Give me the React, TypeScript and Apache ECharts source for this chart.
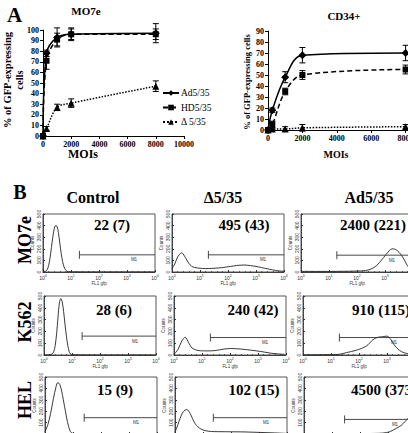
import React, { useEffect, useRef } from "react";
import * as echarts from "echarts";

// ---- Panel A: transduction efficiency vs MOI ----
const moi = [0, 250, 1000, 2000, 8000];
const vectorNames = ["Ad5/35", "HD5/35", "Δ 5/35"];

const mo7eAd = [0, 78, 93, 96, 97];
const mo7eHD = [0, 71, 91, 96, 96];
const mo7eDelta = [0, 7, 27, 31, 47];
const mo7eAdErr = [0, 3, 9, 6, 9];
const mo7eHDErr = [0, 8, 6, 5, 5];
const mo7eDeltaErr = [0, 2, 3, 4, 5];

const cd34Ad = [0, 18, 48, 68, 70];
const cd34HD = [0, 5, 35, 50, 55];
const cd34Delta = [0, 1, 1, 2, 3];
const cd34AdErr = [0, 2, 5, 7, 7];
const cd34HDErr = [0, 3, 3, 4, 4];
const cd34DeltaErr = [0, 1, 2, 3, 2];

// ---- Panel B: FL1 (GFP) histograms, x as log10 decade, y as counts ----
const columns = ["Control", "Δ5/35", "Ad5/35"];
const cellLines = ["MO7e", "K562", "HEL"];
const meanLabels = [
  ["22 (7)", "495 (43)", "2400 (221)"],
  ["28 (6)", "240 (42)", "910 (115)"],
  ["15 (9)", "102 (15)", "4500 (373)"],
];

const mo7eControlLog = [0, 0.05, 0.1, 0.15, 0.2, 0.25, 0.3, 0.35, 0.4, 0.45, 0.5, 0.55, 0.6, 0.65, 0.7, 0.75, 0.8, 0.85, 0.9, 1.0, 1.5, 2, 3, 4];
const mo7eControlCounts = [25, 5, 8, 20, 55, 120, 210, 300, 370, 400, 395, 340, 250, 160, 90, 45, 20, 8, 3, 1, 0, 0, 0, 0];
const mo7eDeltaLog = [0, 0.1, 0.2, 0.3, 0.35, 0.4, 0.5, 0.6, 0.7, 0.8, 1.0, 1.2, 1.5, 1.8, 2.0, 2.2, 2.4, 2.6, 2.8, 3.0, 3.2, 3.4, 3.6, 3.8, 4.0];
const mo7eDeltaCounts = [30, 70, 130, 160, 165, 155, 115, 75, 50, 40, 32, 30, 32, 38, 45, 52, 58, 60, 55, 48, 38, 28, 18, 10, 6];
const mo7eAdLog = [0, 0.5, 1, 1.5, 2, 2.3, 2.5, 2.7, 2.9, 3.0, 3.1, 3.2, 3.3, 3.4, 3.5, 3.6, 3.7, 3.8, 3.9, 4];
const mo7eAdCounts = [6, 5, 5, 6, 8, 12, 25, 55, 110, 140, 170, 195, 200, 190, 170, 140, 100, 55, 25, 10];

const k562ControlLog = [0, 0.2, 0.3, 0.35, 0.4, 0.45, 0.5, 0.55, 0.6, 0.65, 0.7, 0.75, 0.8, 0.85, 0.9, 0.95, 1.0, 2, 4];
const k562ControlCounts = [0, 2, 10, 30, 80, 180, 320, 440, 478, 450, 370, 260, 160, 80, 30, 8, 2, 0, 0];
const k562DeltaLog = [0, 0.15, 0.28, 0.4, 0.52, 0.64, 0.82, 1.06, 1.3, 1.54, 1.78, 2.02, 2.4, 2.77, 3.1, 3.47, 3.95];
const k562DeltaCounts = [5, 50, 120, 150, 105, 60, 40, 35, 35, 40, 50, 55, 50, 40, 30, 15, 5];
const k562AdLog = [0, 0.5, 1.0, 1.3, 1.55, 1.9, 2.26, 2.5, 2.67, 2.85, 3.0, 3.14, 3.26, 3.44, 3.6, 3.8, 4.0];
const k562AdCounts = [2, 2, 3, 6, 20, 40, 75, 130, 150, 155, 160, 130, 85, 40, 20, 8, 3];

const helControlLog = [0, 0.1, 0.2, 0.3, 0.4, 0.45, 0.5, 0.55, 0.6, 0.7, 0.8, 0.9, 1.0, 2, 4];
const helControlCounts = [20, 80, 180, 310, 420, 450, 445, 420, 370, 240, 110, 25, 5, 0, 0];
const helDeltaLog = [0, 0.1, 0.18, 0.3, 0.42, 0.54, 0.72, 0.95, 1.3, 1.8, 2.5, 3.0, 3.5, 4.0];
const helDeltaCounts = [15, 80, 136, 197, 215, 180, 90, 40, 22, 20, 18, 14, 10, 5];
const helAdLog = [0, 1, 2, 2.5, 2.82, 3.06, 3.3, 3.47, 3.65, 3.76, 3.9, 4.0];
const helAdCounts = [2, 2, 3, 5, 8, 20, 50, 75, 120, 150, 190, 200];

const gateStart = [
  [1.3, 1.3, 1.28],
  [1.36, 1.3, 1.3],
  [1.4, 1.37, 1.45],
];
const gateLevel = [
  [148, 148, 145],
  [160, 148, 148],
  [143, 143, 128],
];

const histLogs = [
  [mo7eControlLog, mo7eDeltaLog, mo7eAdLog],
  [k562ControlLog, k562DeltaLog, k562AdLog],
  [helControlLog, helDeltaLog, helAdLog],
];
const histCounts = [
  [mo7eControlCounts, mo7eDeltaCounts, mo7eAdCounts],
  [k562ControlCounts, k562DeltaCounts, k562AdCounts],
  [helControlCounts, helDeltaCounts, helAdCounts],
];

// ---- layout ----
const SERIF = '"Liberation Serif", "Times New Roman", serif';
const histTop = [214, 296, 377];
const histHeight = [58, 59, 57];
const histLeft = [
  [43, 172, 301],
  [44, 174, 303],
  [45, 175, 304],
];
const histWidth = 112;
const labelCenterX = [
  [112, 244, 373],
  [114, 253, 381],
  [115, 254, 384],
];
const labelY = [225, 310, 390];
// the bottom row's FL1 axis sits at the lower page edge, its labels fall below it
const bottomRowClipped = [false, false, true];

const pairs = (xs: number[], ys: number[]) => xs.map((x, i) => [x, ys[i]]);
const errTriples = (ys: number[], es: number[]) => moi.map((x, i) => [x, ys[i], es[i]]);

function errorBarItem(_params: any, api: any) {
  const x = api.value(0);
  const y = api.value(1);
  const e = api.value(2);
  if (!e) return null;
  const hi = api.coord([x, y + e]);
  const lo = api.coord([x, y - e]);
  const w = 3;
  const st = { stroke: "#000", lineWidth: 1 };
  return {
    type: "group",
    children: [
      { type: "line", shape: { x1: hi[0], y1: hi[1], x2: lo[0], y2: lo[1] }, style: st },
      { type: "line", shape: { x1: hi[0] - w, y1: hi[1], x2: hi[0] + w, y2: hi[1] }, style: st },
      { type: "line", shape: { x1: lo[0] - w, y1: lo[1], x2: lo[0] + w, y2: lo[1] }, style: st },
    ],
  };
}

function gateItem(_params: any, api: any) {
  const start = api.value(0);
  const level = api.value(1);
  const a = api.coord([start, level]);
  const b = api.coord([4, level]);
  const m = api.coord([3.25, level]);
  const st = { stroke: "#333", lineWidth: 0.9 };
  return {
    type: "group",
    children: [
      { type: "line", shape: { x1: a[0], y1: a[1], x2: b[0], y2: b[1] }, style: st },
      { type: "line", shape: { x1: a[0], y1: a[1] - 4, x2: a[0], y2: a[1] + 4 }, style: st },
      {
        type: "text",
        x: m[0],
        y: m[1] + 5,
        style: { text: "M1", fontSize: 4.5, fill: "#333", align: "center", verticalAlign: "middle", fontFamily: "Arial, sans-serif" },
      },
    ],
  };
}

function buildOption() {
  const grid: any[] = [
    { left: 43, top: 30, width: 141, height: 106, outerBoundsMode: "none" },
    { left: 268, top: 31, width: 172, height: 99, outerBoundsMode: "none" },
  ];
  const axisTxt = {
    fontFamily: SERIF, fontWeight: "bold", fontSize: 8, color: "#000",
    formatter: (v: number) => String(v),
  };
  const blackLine = { lineStyle: { color: "#000", width: 1 } };
  const xAxis: any[] = [0, 1].map((gi) => ({
    gridIndex: gi, type: "value", min: 0, max: 10000, interval: 2000,
    axisLine: blackLine, axisTick: { length: 3, lineStyle: { color: "#000" } },
    axisLabel: { ...axisTxt, margin: 4 }, splitLine: { show: false },
  }));
  const yAxis: any[] = [
    {
      gridIndex: 0, type: "value", min: 0, max: 100, interval: 10,
      axisLine: { show: true, ...blackLine }, axisTick: { show: true, length: 3, lineStyle: { color: "#000" } },
      axisLabel: { ...axisTxt, margin: 4 }, splitLine: { show: false },
    },
    {
      gridIndex: 1, type: "value", min: 0, max: 90, interval: 10,
      axisLine: { show: true, ...blackLine }, axisTick: { show: true, length: 3, lineStyle: { color: "#000" } },
      axisLabel: { ...axisTxt, margin: 4 }, splitLine: { show: false },
    },
  ];

  const lineKinds: any[] = [
    { symbol: "diamond", symbolSize: 8, type: "solid" },
    { symbol: "rect", symbolSize: 6, type: [5, 3] },
    { symbol: "triangle", symbolSize: 7, type: "dotted" },
  ];
  const curveSeries = (idx: number, values: number[][]) =>
    values.map((vals, k) => ({
      name: vectorNames[k],
      type: "line",
      xAxisIndex: idx,
      yAxisIndex: idx,
      data: pairs(moi, vals),
      smooth: 0.35,
      symbol: lineKinds[k].symbol,
      symbolSize: lineKinds[k].symbolSize,
      showAllSymbol: true,
      itemStyle: { color: "#000" },
      lineStyle: { color: "#000", width: 1.5, type: lineKinds[k].type },
      z: 3,
    }));

  const series: any[] = [
    ...curveSeries(0, [mo7eAd, mo7eHD, mo7eDelta]),
    ...curveSeries(1, [cd34Ad, cd34HD, cd34Delta]),
    {
      name: "mo7e-error",
      type: "custom",
      xAxisIndex: 0,
      yAxisIndex: 0,
      renderItem: errorBarItem,
      data: [
        ...errTriples(mo7eAd, mo7eAdErr),
        ...errTriples(mo7eHD, mo7eHDErr),
        ...errTriples(mo7eDelta, mo7eDeltaErr),
      ],
      z: 2,
    },
    {
      name: "cd34-error",
      type: "custom",
      xAxisIndex: 1,
      yAxisIndex: 1,
      renderItem: errorBarItem,
      data: [
        ...errTriples(cd34Ad, cd34AdErr),
        ...errTriples(cd34HD, cd34HDErr),
        ...errTriples(cd34Delta, cd34DeltaErr),
      ],
      z: 2,
    },
  ];

  const tinyTxt = { fontFamily: "Arial, sans-serif", fontSize: 5, color: "#333" };
  for (let r = 0; r < 3; r++) {
    const clipped = bottomRowClipped[r];
    for (let c = 0; c < 3; c++) {
      const gi = grid.length;
      grid.push({
        left: histLeft[r][c],
        top: histTop[r],
        width: histWidth,
        height: histHeight[r],
        show: true,
        borderColor: "#444",
        borderWidth: 0.9,
        outerBoundsMode: "none",
      });
      xAxis.push({
        gridIndex: gi, type: "value", min: 0, max: 4, interval: 1,
        axisLine: { lineStyle: { color: "#333", width: 0.9 } },
        axisTick: { inside: true, length: 2, lineStyle: { color: "#333" } },
        minorTick: { show: true, splitNumber: 5, length: 1, lineStyle: { color: "#555" } },
        splitLine: { show: false },
        axisLabel: {
          show: !clipped,
          margin: 2,
          formatter: (v: number) => `{b|10}{s|${v}}`,
          rich: {
            b: { ...tinyTxt },
            s: { ...tinyTxt, fontSize: 3.5, padding: [0, 0, 3, 0] },
          },
        },
        name: clipped ? "" : "FL1 gfp",
        nameLocation: "middle",
        nameGap: 9,
        nameTextStyle: { ...tinyTxt, fontSize: 4.5 },
      });
      yAxis.push({
        gridIndex: gi, type: "value", min: 0, max: 500, interval: 100,
        axisLine: { show: true, lineStyle: { color: "#333", width: 0.9 } },
        axisTick: { show: true, inside: true, length: 2, lineStyle: { color: "#333" } },
        minorTick: { show: true, splitNumber: 4, length: 1, lineStyle: { color: "#555" } },
        splitLine: { show: false },
        axisLabel: { ...tinyTxt, rotate: 90, margin: 2, showMinLabel: !clipped },
        name: "Counts",
        nameLocation: "middle",
        nameRotate: 90,
        nameGap: 8,
        nameTextStyle: { ...tinyTxt, fontSize: 4.5 },
      });
      series.push({
        name: `${cellLines[r]} ${columns[c]}`,
        type: "line",
        xAxisIndex: gi,
        yAxisIndex: gi,
        data: pairs(histLogs[r][c], histCounts[r][c]),
        smooth: 0.3,
        showSymbol: false,
        lineStyle: { color: "#222", width: 0.9 },
        z: 2,
      });
      series.push({
        name: `${cellLines[r]} ${columns[c]} M1`,
        type: "custom",
        xAxisIndex: gi,
        yAxisIndex: gi,
        renderItem: gateItem,
        data: [[gateStart[r][c], gateLevel[r][c]]],
        z: 3,
      });
    }
  }

  const bold = (size: number) => ({ fontFamily: SERIF, fontWeight: "bold", fontSize: size, fill: "#000" });
  const graphic: any[] = [
    { type: "text", x: 14.5, y: 15, style: { text: "A", ...bold(21), align: "center", verticalAlign: "middle" } },
    { type: "text", x: 86, y: 11, style: { text: "MO7e", ...bold(11), align: "center", verticalAlign: "middle" } },
    { type: "text", x: 344, y: 16, style: { text: "CD34+", ...bold(11), align: "center", verticalAlign: "middle" } },
    {
      type: "text", x: 13, y: 80, rotation: Math.PI / 2,
      style: { text: "% of GFP-expressing\ncells", ...bold(10.5), lineHeight: 12, align: "center", verticalAlign: "middle" },
    },
    {
      type: "text", x: 247, y: 82, rotation: Math.PI / 2,
      style: { text: "% of GFP-expressing cells", ...bold(8.5), align: "center", verticalAlign: "middle" },
    },
    { type: "text", x: 83, y: 154, style: { text: "MOIs", ...bold(12), align: "center", verticalAlign: "middle" } },
    { type: "text", x: 336, y: 154, style: { text: "MOIs", ...bold(10), align: "center", verticalAlign: "middle" } },
    { type: "text", x: 20, y: 191.5, style: { text: "B", ...bold(20), align: "center", verticalAlign: "middle" } },
  ];
  const headerX = [93, 223, 369];
  columns.forEach((t, c) =>
    graphic.push({ type: "text", x: headerX[c], y: 197, style: { text: t, ...bold(16), align: "center", verticalAlign: "middle" } })
  );
  const rowLabelY = [240, 322, 400];
  cellLines.forEach((t, r) =>
    graphic.push({
      type: "text", x: 25, y: rowLabelY[r], rotation: Math.PI / 2,
      style: { text: t, ...bold(18), align: "center", verticalAlign: "middle" },
    })
  );
  meanLabels.forEach((row, r) =>
    row.forEach((t, c) =>
      graphic.push({
        type: "text", x: labelCenterX[r][c], y: labelY[r],
        style: { text: t, ...bold(15), align: "center", verticalAlign: "middle" },
      })
    )
  );

  return {
    animation: false,
    backgroundColor: "#fff",
    grid,
    xAxis,
    yAxis,
    series,
    graphic,
    legend: {
      data: vectorNames,
      orient: "vertical",
      left: 162,
      top: 87.5,
      padding: 0,
      itemWidth: 16,
      itemHeight: 7,
      itemGap: 3.5,
      selectedMode: false,
      textStyle: { fontFamily: SERIF, fontSize: 9.5, color: "#000", lineHeight: 11, padding: [0, 0, 0, -3] },
    },
  };
}

export default function App() {
  const ref = useRef<HTMLDivElement>(null);
  useEffect(() => {
    if (!ref.current) return;
    const chart = echarts.init(ref.current, undefined, { renderer: "svg" });
    chart.setOption(buildOption());
    return () => chart.dispose();
  }, []);
  return (
    <div
      ref={ref}
      style={{ position: "absolute", left: 0, top: 0, width: 408, height: 433, overflow: "hidden", background: "#fff" }}
    />
  );
}
